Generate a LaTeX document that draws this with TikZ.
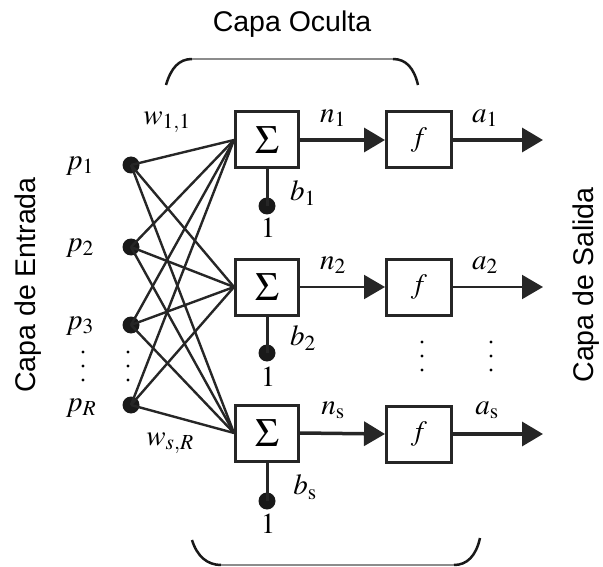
\documentclass[tikz,border=0pt]{standalone}
\usepackage{mathptmx}
\usepackage{fontspec}
\setmainfont{Liberation Serif}
\newfontfamily\capafont{Liberation Sans}
\usetikzlibrary{arrows.meta}
\tikzset{
	>={Triangle[length=21pt,width=24pt]},
	punkt/.style={
		circle,
		fill=black!90,
		inner sep=0pt,
		minimum size=17pt},
	sumbox/.style={
		rectangle,
		draw=black!85, line width=3pt,
		minimum width=63pt,
		minimum height=56pt,
		inner sep=0pt,
		font=\fontsize{40}{40}\selectfont},
	funcbox/.style={
		sumbox,
		minimum width=65pt,
		font=\fontsize{28}{28}\selectfont},
	marke/.style={inner sep=0pt, font=\fontsize{29}{30}\selectfont},
	capa/.style={inner sep=0pt, font=\capafont\fontsize{28.5}{30}\selectfont},
	verbindung/.style={draw=black!85, line width=2.4pt},
	pfeil/.style={draw=black!85, line width=3.5pt, ->},
	klammer/.style={draw=black!90, line width=2.5pt},
	klammerlinie/.style={draw=black!45, line width=1.5pt},
}
\begin{document}
\begin{tikzpicture}[x=1pt,y=-1pt]
	\useasboundingbox (0,0) rectangle (603,567);
	% titles
	\node[capa] (titel) at (292,24) {Capa Oculta};
	\node[capa, rotate=90] (entrada) at (28,285) {Capa de Entrada};
	\node[capa, rotate=90] (salida) at (586,285) {Capa de Salida};
	% braces
	\draw[klammer] (166,85) .. controls (171,68) and (179,59) .. (192,59);
	\draw[klammerlinie] (192,59) -- (393,59);
	\draw[klammer] (393,59) .. controls (406,59) and (414,68) .. (418,85);
	\draw[klammer] (192,540) .. controls (197,556) and (207,565) .. (221,565);
	\draw[klammerlinie] (221,565) -- (454,565);
	\draw[klammer] (454,565) .. controls (467,565) and (476,556) .. (480,538);
	% inputs
	\node[punkt] (p1) at (131,165) {};
	\node[punkt] (p2) at (131,247) {};
	\node[punkt] (p3) at (131,325) {};
	\node[punkt] (pR) at (131,405) {};
	\node[marke] (lp1) at (80,166) {$p_1$};
	\node[marke] (lp2) at (80,248) {$p_2$};
	\node[marke] (lp3) at (80,326) {$p_3$};
	\node[marke] (lpR) at (81,408) {$p_R$};
	\foreach \y in {352,366,380} {
		\fill (83,\y) circle (1.6pt);
		\fill (128,\y) circle (1.6pt);
	}
	% summing junctions
	\node[sumbox] (sum1) at (267,140) {$\Sigma$};
	\node[sumbox] (sum2) at (267,287) {$\Sigma$};
	\node[sumbox] (sum3) at (267,433) {$\Sigma$};
	\foreach \i in {p1,p2,p3,pR}
		\foreach \j in {sum1,sum2,sum3}
			\draw[verbindung] (\i.center) -- (\j.west);
	\node[marke] (w11) at (167,122) {$w_{1,1}$};
	\node[marke] (wSR) at (170,443) {$w_{s,R}$};
	% biases
	\node[punkt] (bias1) at (267,206) {};
	\node[punkt] (bias2) at (267,353) {};
	\node[punkt] (bias3) at (267,501) {};
	\draw[verbindung, line width=3pt] (sum1.south) -- (bias1.center);
	\draw[verbindung, line width=3pt] (sum2.south) -- (bias2.center);
	\draw[verbindung, line width=3pt] (sum3.south) -- (bias3.center);
	\node[marke] (eins1) at (268,228) {$1$};
	\node[marke] (eins2) at (268,377) {$1$};
	\node[marke] (eins3) at (268,524) {$1$};
	\node[marke] (b1) at (303,193) {$b_1$};
	\node[marke] (b2) at (303,338) {$b_2$};
	\node[marke] (b3) at (305,487) {$b_{\mathrm{s}}$};
	% transfer functions
	\node[funcbox] (f1) at (419,140) {$f$};
	\node[funcbox] (f2) at (419,287) {$f$};
	\node[funcbox] (f3) at (419,434) {$f$};
	\coordinate (out1) at (543,140);
	\coordinate (out2) at (543,287);
	\coordinate (out3) at (543,434);
	\draw[pfeil] (sum1.east) -- (f1.west);
	\draw[pfeil, line width=2pt] (sum2.east) -- (f2.west);
	\draw[pfeil] (sum3.east) -- (f3.west);
	\draw[pfeil] (f1.east) -- (out1);
	\draw[pfeil, line width=2pt] (f2.east) -- (out2);
	\draw[pfeil] (f3.east) -- (out3);
	\node[marke] (n1) at (333,118) {$n_1$};
	\node[marke] (n2) at (333,265) {$n_2$};
	\node[marke] (n3) at (333,410) {$n_{\mathrm{s}}$};
	\node[marke] (a1) at (485,118) {$a_1$};
	\node[marke] (a2) at (485,265) {$a_2$};
	\node[marke] (a3) at (487,410) {$a_{\mathrm{s}}$};
	\foreach \y in {342,356,370} {
		\fill (422,\y) circle (1.6pt);
		\fill (491,\y) circle (1.6pt);
	}
\end{tikzpicture}
\end{document}
